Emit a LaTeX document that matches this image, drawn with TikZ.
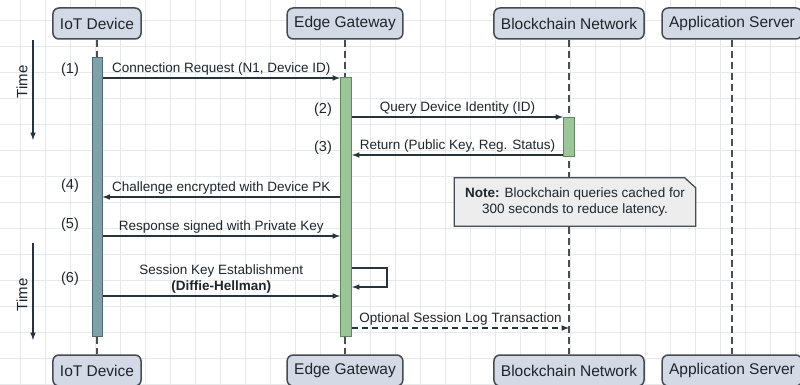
\documentclass[tikz,border=0pt]{standalone}
\usepackage{fontspec}
\setmainfont{Liberation Sans}

\definecolor{gridc}{HTML}{E6E8EA}
\definecolor{inkc}{HTML}{1E262C}
\definecolor{arrowc}{HTML}{26343D}
\definecolor{actorfill}{HTML}{D3DAE6}
\definecolor{actorline}{HTML}{454B51}
\definecolor{lifec}{HTML}{4A4E52}
\definecolor{iotfill}{HTML}{7FA1A9}
\definecolor{iotline}{HTML}{4E6A70}
\definecolor{gwfill}{HTML}{9DC59A}
\definecolor{gwline}{HTML}{5F8A5C}
\definecolor{notefill}{HTML}{EDEDED}

\pgfdeclarelayer{background}
\pgfdeclarelayer{foreground}
\pgfsetlayers{background,main,foreground}

\begin{document}
\begin{tikzpicture}[x=1pt,y=-1pt,
  actor/.style={draw=actorline,fill=actorfill,rounded corners=6pt,line width=1.5pt,
    minimum height=31pt,inner xsep=7pt,text=inkc,font=\fontsize{15.5}{18}\selectfont},
  lifeline/.style={draw=lifec,dash pattern=on 7pt off 4pt,line width=1.5pt},
  iotbar/.style={draw=iotline,fill=iotfill,line width=1pt,minimum width=10pt,inner sep=0pt},
  gwbar/.style={draw=gwline,fill=gwfill,line width=1pt,minimum width=11pt,inner sep=0pt},
  msg/.style={-latex,draw=arrowc,line width=1.5pt},
  lbl/.style={text=inkc,font=\fontsize{13.5}{16}\selectfont,inner sep=2pt},
  stepno/.style={text=inkc,font=\fontsize{14.5}{16}\selectfont},
  timelbl/.style={text=inkc,font=\fontsize{15}{16}\selectfont,rotate=90},
  timearrow/.style={-latex,draw=arrowc,line width=1.5pt}]

\useasboundingbox (0,0) rectangle (800,385);

% actors, top and bottom
\node[actor] (iot)   at (97,23.5)  {IoT Device};
\node[actor] (gw)    at (345,23.5) {Edge Gateway};
\node[actor] (chain) at (569,23.5) {Blockchain Network};
\node[actor] (app)   at (732,23.5) {Application Server};

\node[actor] (iotB)   at (97,370.5)  {IoT Device};
\node[actor] (gwB)    at (345,370.5) {Edge Gateway};
\node[actor] (chainB) at (569,370.5) {Blockchain Network};
\node[actor] (appB)   at (732,370.5) {Application Server};

\begin{pgfonlayer}{background}
  \fill[white] (0,0) rectangle (800,385);
  \foreach \gx in {20,45,...,795} \draw[gridc,line width=0.8pt] (\gx,0) -- (\gx,385);
  \foreach \gy in {20,46,...,384} \draw[gridc,line width=0.8pt] (0,\gy) -- (800,\gy);
  \draw[lifeline] (iot) -- (iotB);
  \draw[lifeline] (gw) -- (gwB);
  \draw[lifeline] (chain) -- (chainB);
  \draw[lifeline] (app) -- (appB);
\end{pgfonlayer}

% activation bars
\node[iotbar,minimum height=278pt] (iotact)   at (97,197)  {};
\node[gwbar,minimum height=258pt]  (gwact)    at (346,207) {};
\node[gwbar,minimum height=38pt]   (chainact) at (569,137) {};

% time arrows
\coordinate (timeA1) at (33,40);
\coordinate (timeA2) at (33,140);
\coordinate (timeB1) at (33,243);
\coordinate (timeB2) at (33,340);
\draw[timearrow] (timeA1) -- (timeA2);
\draw[timearrow] (timeB1) -- (timeB2);
\node[timelbl] (timeA) at (22,82)  {Time};
\node[timelbl] (timeB) at (22,295) {Time};

% step numbers
\node[stepno] (s1) at (70,70)   {(1)};
\node[stepno] (s2) at (323,110) {(2)};
\node[stepno] (s3) at (323,148) {(3)};
\node[stepno] (s4) at (70,186)  {(4)};
\node[stepno] (s5) at (70,225)  {(5)};
\node[stepno] (s6) at (70,279)  {(6)};

% messages
\draw[msg] (iotact.east |- 0,78) -- node[lbl,above] {Connection Request (N1, Device ID)} (gwact.west |- 0,78);
\draw[msg] (gwact.east |- 0,117) -- node[lbl,above] {Query Device Identity (ID)} (chainact.west |- 0,117);
\draw[msg] (chainact.west |- 0,155) -- node[lbl,above] {Return (Public Key, Reg. Status)} (gwact.east |- 0,155);
\draw[msg] (gwact.west |- 0,197) -- node[lbl,above] {Challenge encrypted with Device PK} (iotact.east |- 0,197);
\draw[msg] (iotact.east |- 0,236) -- node[lbl,above] {Response signed with Private Key} (gwact.west |- 0,236);
\draw[msg] (iotact.east |- 0,296) -- node[lbl,above,align=center] {Session Key Establishment\\\textbf{(Diffie-Hellman)}} (gwact.west |- 0,296);
\draw[msg] (gwact.east |- 0,268) -- ++(35,0) |- (gwact.east |- 0,287);
\draw[msg,dash pattern=on 6pt off 4pt] (gwact.east |- 0,328) -- node[lbl,above] {Optional Session Log Transaction} (chain |- 0,328);

% note
\begin{pgfonlayer}{foreground}
  \node[lbl,align=center,minimum width=241pt,minimum height=48pt] (note) at (575,202)
    {\textbf{Note:} Blockchain queries cached for\\300 seconds to reduce latency.};
\end{pgfonlayer}
\draw[draw=actorline,fill=notefill,line width=1.3pt] (note.south west) -- (note.north west)
  -- ([xshift=-11pt]note.north east) -- ([yshift=-10pt]note.north east) -- (note.south east) -- cycle;

\end{tikzpicture}
\end{document}
